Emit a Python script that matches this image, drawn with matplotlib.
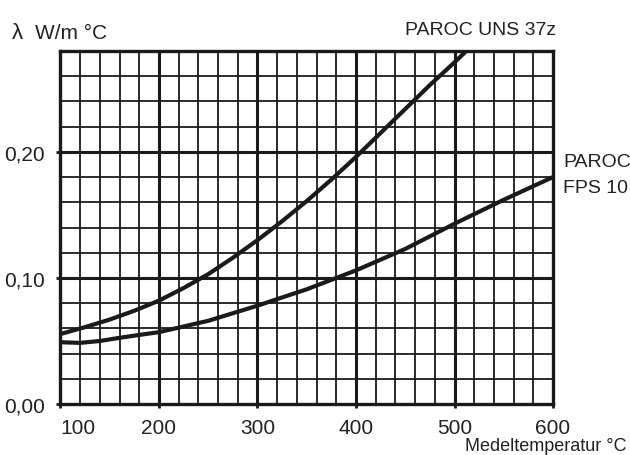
import matplotlib
matplotlib.use("Agg")
import matplotlib.pyplot as plt

plt.rcParams['font.family'] = ['Liberation Sans', 'DejaVu Sans']

# Medeltemperatur (°C) och lambda-värden
temp_uns = [100, 125, 150, 175, 200, 225, 250, 275, 300, 325, 350, 375, 400, 425, 450, 475, 500, 512]
lambda_uns = [0.0555, 0.061, 0.067, 0.074, 0.082, 0.092, 0.103, 0.116, 0.130, 0.145, 0.161, 0.178, 0.196,
              0.215, 0.234, 0.253, 0.271, 0.280]

temp_fps = [100, 120, 140, 160, 180, 200, 250, 300, 350, 400, 450, 500, 550, 600]
lambda_fps = [0.049, 0.0485, 0.050, 0.0525, 0.0548, 0.057, 0.066, 0.078, 0.091, 0.106, 0.123, 0.143, 0.162, 0.180]

x_ticks = [100, 200, 300, 400, 500, 600]
y_ticks = [0.0, 0.1, 0.2]
y_tick_labels = ['0,00', '0,10', '0,20']

fig = plt.figure(figsize=(6.3, 4.56), dpi=100)
ax = fig.add_axes([0.096, 0.1118, 0.7818, 0.7742])

ax.set_xlim(100, 600)
ax.set_ylim(0, 0.28)

# rutnät: tunna linjer var 20 °C / 0,02, tjocka var 100 °C / 0,10
for t in range(120, 600, 20):
    lw = 2.2 if t % 100 == 0 else 1.3
    ax.axvline(t, color='#1a1a1a', lw=lw, zorder=1)
for k in range(1, 14):
    v = k * 0.02
    lw = 2.2 if k % 5 == 0 else 1.3
    ax.axhline(v, color='#1a1a1a', lw=lw, zorder=1)

ax.plot(temp_uns, lambda_uns, color='#1a1a1a', lw=3.0, solid_capstyle='butt', zorder=3)
ax.plot(temp_fps, lambda_fps, color='#1a1a1a', lw=3.0, solid_capstyle='butt', zorder=3)

for s in ax.spines.values():
    s.set_linewidth(2.4)
    s.set_color('#1a1a1a')

ax.set_xticks(x_ticks)
ax.set_xticklabels([str(t) for t in x_ticks])
ax.set_yticks(y_ticks)
ax.set_yticklabels(y_tick_labels)
ax.tick_params(axis='both', direction='out', length=3, width=2, color='#1a1a1a',
               labelsize=15, labelcolor='#222222')
ax.tick_params(axis='x', pad=7)
ax.tick_params(axis='y', pad=8)
ax.get_xticklabels()[0].set_horizontalalignment('left')

fig.text(12 / 630, 0.9276, 'λ', fontsize=16, va='center', ha='left', color='#222222')
fig.text(35 / 630, 0.9276, 'W/m °C', fontsize=15, va='center', ha='left', color='#222222')
fig.text(405 / 630, 0.934, 'PAROC UNS 37z', fontsize=14, va='center', ha='left', color='#222222')
fig.text(563 / 630, 0.6447, 'PAROC', fontsize=14, va='center', ha='left', color='#222222')
fig.text(563 / 630, 0.5877, 'FPS 10', fontsize=14, va='center', ha='left', color='#222222')
fig.text(0.995, 0.012, 'Medeltemperatur °C', fontsize=13, va='baseline', ha='right', color='#222222')

fig.savefig('out.png', dpi=100)
